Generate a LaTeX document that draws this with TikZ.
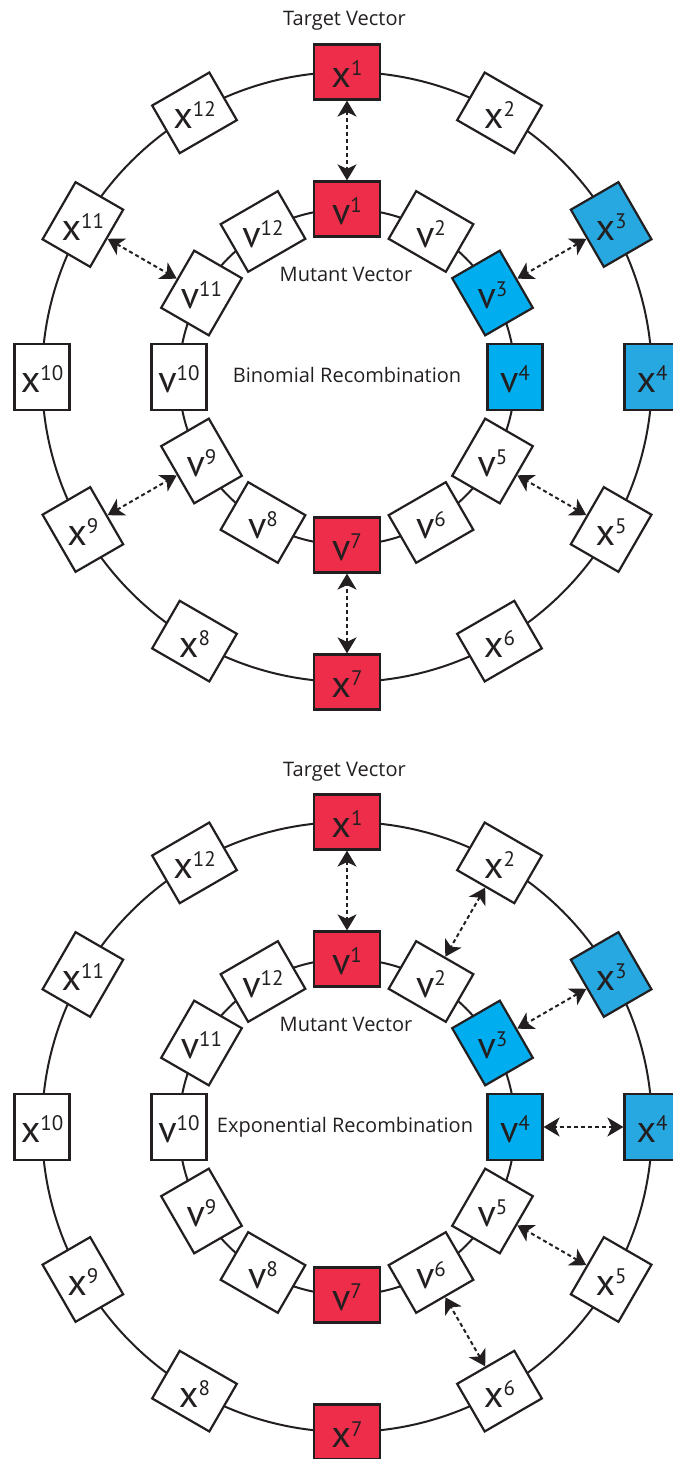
\documentclass[tikz,border=0pt]{standalone}
\usepackage{fontspec}
\setmainfont{PT Sans}
\newfontfamily\titlefont{Open Sans}
\usetikzlibrary{arrows.meta,calc}
\definecolor{ink}{RGB}{35,31,32}
\definecolor{redbox}{RGB}{237,45,74}
\definecolor{cyanbox}{RGB}{0,174,239}
\definecolor{bluebox}{RGB}{39,168,224}
\tikzset{
  ring/.style={draw=ink, line width=2pt},
  cell/.style={draw=ink, line width=2.2pt, fill=white, minimum width=66pt, minimum height=55pt, inner sep=0pt},
  lbl/.style={text=ink, inner sep=0pt, anchor=base},
  title/.style={text=ink, font=\titlefont\fontsize{20}{20}\selectfont, inner sep=0pt, anchor=base},
  link/.style={draw=ink, line width=2pt, dash pattern=on 4pt off 3pt,
    {Stealth[length=16pt,width=19pt,inset=4.5pt]}-{Stealth[length=16pt,width=19pt,inset=4.5pt]}},
  cX1/.style={fill=redbox}, cX2/.style={}, cX3/.style={fill=bluebox}, cX4/.style={fill=bluebox},
  cX5/.style={}, cX6/.style={}, cX7/.style={fill=redbox}, cX8/.style={}, cX9/.style={},
  cX10/.style={}, cX11/.style={}, cX12/.style={},
  cV1/.style={fill=redbox}, cV2/.style={}, cV3/.style={fill=cyanbox}, cV4/.style={fill=cyanbox},
  cV5/.style={}, cV6/.style={}, cV7/.style={fill=redbox}, cV8/.style={}, cV9/.style={},
  cV10/.style={}, cV11/.style={}, cV12/.style={},
}
\newcommand{\cellsym}[2]{{\fontsize{38}{38}\selectfont #1}\raisebox{12pt}{\fontsize{21}{21}\selectfont #2}}
\begin{document}
\begin{tikzpicture}[x=1pt,y=1pt]
\useasboundingbox (0,0) rectangle (672,1459);
\foreach \p/\cy in {t/1082, b/332}{
  \coordinate (\p C) at (347,\cy);
  \draw[ring] (\p C) circle[radius=305];
  \draw[ring] (\p C) circle[radius=168];
  \foreach \i in {1,...,12}{
    \pgfmathsetmacro{\ang}{90-30*(\i-1)}
    \node[cell, cX\i, rotate=\ang-90] (\p X\i) at ([shift={(\ang:305)}]\p C) {};
    \node[lbl] (\p XL\i) at ([yshift=-16pt]\p X\i.center) {\cellsym{x}{\i}};
    \node[cell, cV\i, rotate=\ang-90] (\p V\i) at ([shift={(\ang:168)}]\p C) {};
    \node[lbl] (\p VL\i) at ([yshift=-16pt]\p V\i.center) {\cellsym{v}{\i}};
  }
}
\foreach \i in {1,3,5,7,9,11} \draw[link] (tX\i) -- (tV\i);
\foreach \i in {1,...,6} \draw[link] (bX\i) -- (bV\i);
\node[title] (tT) at (344.5,1433) {Target Vector};
\node[title] (tM) at (346,1177) {Mutant Vector};
\node[title] (tR) at (347,1076) {Binomial Recombination};
\node[title] (bT) at (344.5,682) {Target Vector};
\node[title] (bM) at (346,427) {Mutant Vector};
\node[title] (bR) at (345,326) {Exponential Recombination};
\end{tikzpicture}
\end{document}
